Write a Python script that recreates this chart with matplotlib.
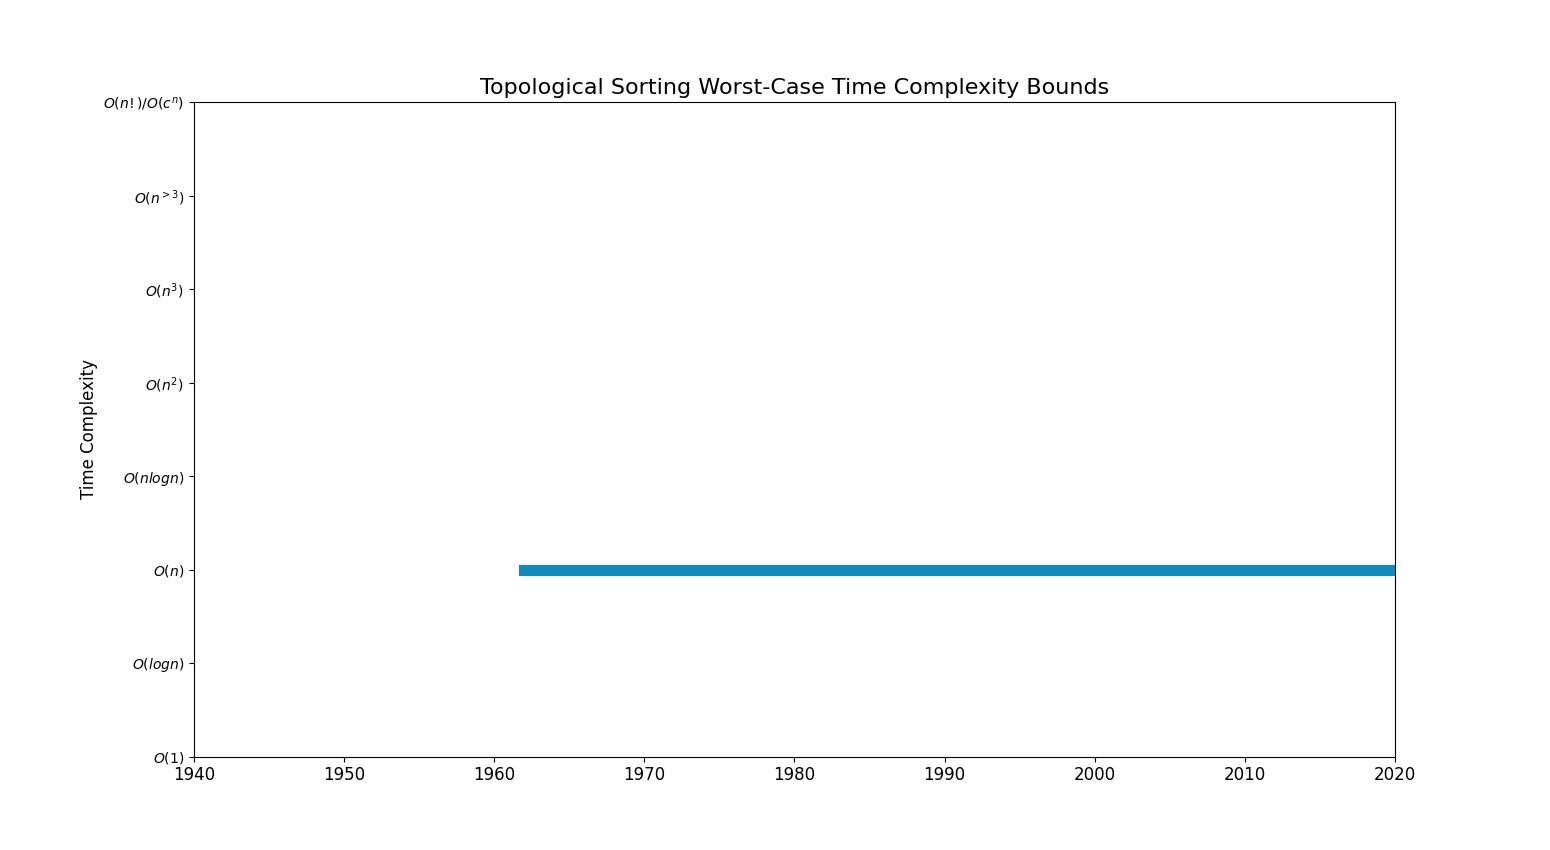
import matplotlib
matplotlib.use('Agg')
import matplotlib.pyplot as plt

years = [1962, 2020]
bound = [2, 2]  # index into complexity classes, O(n)
classes = [r'$O(1)$', r'$O(logn)$', r'$O(n)$', r'$O(nlogn)$', r'$O(n^2)$',
           r'$O(n^3)$', r'$O(n^{>3})$', r'$O(n!)/O(c^n)$']

fig = plt.figure(figsize=(15.5, 8.5), dpi=100)
ax = plt.subplot(1, 1, 1)

plt.step(years, bound, where='post', color='#118ab9', linewidth=8)
plt.title('Topological Sorting Worst-Case Time Complexity Bounds', fontsize=16)
plt.ylabel('Time Complexity', fontsize=12)
plt.xlim(1940, 2020)
plt.ylim(0, len(classes) - 1)
plt.yticks(range(len(classes)), classes, fontsize=10)
plt.xticks(range(1940, 2021, 10), fontsize=12)

plt.savefig('out.png', dpi=100)
